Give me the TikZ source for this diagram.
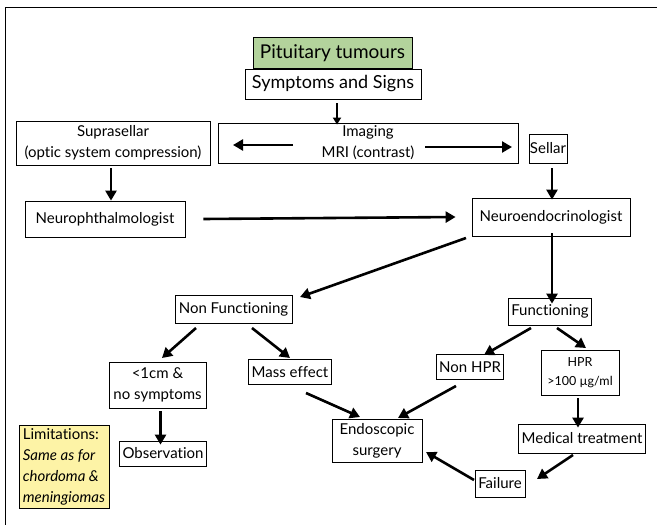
\documentclass[tikz,border=0pt]{standalone}
\usepackage{fontspec}
\setmainfont{Lato}[Ligatures={NoCommon,NoRare,NoContextual}]
\usetikzlibrary{arrows.meta}
\definecolor{tgreen}{HTML}{B3D39C}
\definecolor{tyellow}{HTML}{FDF3A6}
\begin{document}
\begin{tikzpicture}[x=1pt,y=-1pt,
  bx/.style={draw, line width=0.8pt, inner xsep=3pt, inner ysep=2pt, align=center, font=\fontsize{15}{21}\selectfont},
  arr/.style={line width=2.6pt, -{Triangle[length=10pt,width=11pt]}},
  sarr/.style={line width=1.8pt, -{Triangle[length=7pt,width=8pt]}}]
\useasboundingbox (0,0) rectangle (657,525);
\draw[line width=1pt] (5,525) -- (5,7.5) -- (657,7.5);
% nodes
\node[bx, fill=tgreen, minimum width=159, minimum height=31, font=\fontsize{19}{22}\selectfont] (pit) at (332.5,53) {Pituitary tumours};
\node[bx, minimum width=176, minimum height=30, font=\fontsize{18}{21}\selectfont] (sym) at (333,84) {Symptoms and Signs};
\node[bx, minimum width=300, minimum height=40] (img) at (368,143) {Imaging\\MRI (contrast)};
\node[bx, minimum width=194, minimum height=44] (sup) at (113,143) {Suprasellar\\(optic system compression)};
\node[bx, minimum width=38, minimum height=29, inner xsep=1pt] (sel) at (548,148.5) {Sellar};
\node[bx, minimum width=160, minimum height=36] (nop) at (105,219) {Neurophthalmologist};
\node[bx, minimum width=158, minimum height=38] (nen) at (551,217) {Neuroendocrinologist};
\node[bx, minimum width=117, minimum height=28] (nf) at (233.5,309) {Non Functioning};
\node[bx, minimum width=80, minimum height=27] (fn) at (550,311.5) {Functioning};
\node[bx, minimum width=97, minimum height=46] (lt) at (157.5,385) {<1cm \&\\no symptoms};
\node[bx, minimum width=77, minimum height=25] (me) at (290,372) {Mass effect};
\node[bx, minimum width=66, minimum height=25] (nh) at (470,367) {Non HPR};
\node[bx, minimum width=78, minimum height=45, font=\fontsize{12.5}{19}\selectfont] (hpr) at (580,372.5) {HPR\\>100 µg/ml};
\node[bx, minimum width=90, minimum height=43] (endo) at (377,440.5) {Endoscopic\\surgery};
\node[bx, minimum width=122, minimum height=29] (med) at (582,438.5) {Medical treatment};
\node[bx, minimum width=50, minimum height=27, inner xsep=1pt] (fail) at (500,483.5) {Failure};
\node[bx, minimum width=86, minimum height=25] (obs) at (163,453.5) {Observation};
\node[bx, fill=tyellow, minimum width=90, minimum height=83, align=left, inner xsep=3pt, font=\fontsize{15}{21}\selectfont] (lim) at (64,466.5) {Limitations:\\\textit{Same as for}\\\textit{chordoma \&}\\\textit{meningiomas}};
% connectors
\draw[sarr] (sym.south) ++(4,4) coordinate (s1) -- ([yshift=-2pt]img.north -| s1);
\coordinate (il1) at (293,145); \coordinate (il2) at (233,145);
\draw[arr] (il1) -- (il2);
\coordinate (ir1) at (425,147); \coordinate (ir2) at (512,147);
\draw[arr] (ir1) -- (ir2);
\draw[arr] (sup.south) ++(-2,3) coordinate (a1) -- (nop.north -| a1);
\draw[arr] (sel.south) ++(4,5) coordinate (a2) -- ([yshift=-2pt]nen.north -| a2);
\draw[arr] ([xshift=18pt]nop.east) -- ([xshift=-16pt]nen.west);
\coordinate (b1) at (466,238); \coordinate (b2) at (300,297);
\draw[arr] (b1) -- (b2);
\draw[arr] ([yshift=3pt]nen.south) ++(1,0) coordinate (c1) -- ([yshift=-6pt]fn.north -| c1);
\coordinate (d1) at (196,328); \coordinate (d2) at (162,358);
\draw[arr] (d1) -- (d2);
\coordinate (e1) at (252,328); \coordinate (e2) at (290,358);
\draw[arr] (e1) -- (e2);
\coordinate (f1) at (531,328); \coordinate (f2) at (484,355);
\draw[arr] (f1) -- (f2);
\coordinate (g1) at (557,328); \coordinate (g2) at (586,348);
\draw[arr] (g1) -- (g2);
\draw[arr] (lt.south) ++(3,3) coordinate (h1) -- ([yshift=-4pt]obs.north -| h1);
\coordinate (i1) at (306,393); \coordinate (i2) at (360,417);
\draw[arr] (i1) -- (i2);
\coordinate (j1) at (456,386); \coordinate (j2) at (398,418);
\draw[arr] (j1) -- (j2);
\draw[arr] (hpr.south) ++(-2,3) coordinate (k1) -- ([yshift=-4pt]med.north -| k1);
\coordinate (l1) at (573,455); \coordinate (l2) at (537,479);
\draw[arr] (l1) -- (l2);
\coordinate (m1) at (474,480); \coordinate (m2) at (426,452);
\draw[arr] (m1) -- (m2);
\end{tikzpicture}
\end{document}
